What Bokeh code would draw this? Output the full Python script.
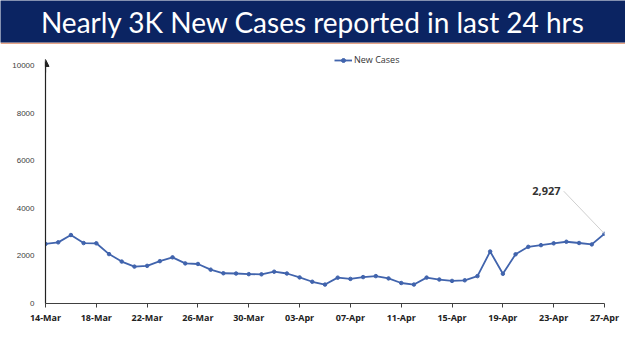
import pandas as pd
from bokeh.plotting import figure
from bokeh.layouts import column
from bokeh.models import (Range1d, FixedTicker, DatetimeTickFormatter, Legend,
                          LegendItem, Arrow, NormalHead)
from bokeh.core.properties import value
from bokeh.embed import file_html
from bokeh.resources import INLINE

title_text = "Nearly 3K New Cases reported in last 24 hrs"
series_name = "New Cases"
dates = pd.date_range("2022-03-14", "2022-04-27", freq="D")
new_cases = [2503, 2568, 2876, 2539, 2528, 2075, 1761, 1549, 1581, 1778,
             1938, 1685, 1660, 1421, 1270, 1259, 1233, 1225,
             1335, 1260, 1096, 913, 795, 1086, 1033, 1109, 1150, 1054,
             861, 796, 1088, 1007, 949, 975, 1150, 2183, 1247, 2067,
             2380, 2451, 2527, 2593, 2541, 2483, 2927]
y_ticks = [0, 2000, 4000, 6000, 8000, 10000]
x_tick_dates = list(dates[::4])
callout_text = "2,927"

NAVY = "#0b2462"
LINE = "#4164ad"

# ---- banner ----
banner = figure(width=625, height=44, x_range=Range1d(0, 1), y_range=Range1d(0, 1),
                x_axis_location=None, y_axis_location=None, toolbar_location=None,
                output_backend="svg", min_border_left=0, min_border_right=0,
                min_border_top=0, min_border_bottom=2, frame_align=False)
banner.background_fill_color = NAVY
banner.border_fill_color = "#e7a485"
banner.outline_line_color = None
banner.grid.visible = False
banner.text(x=[0.5], y=[0.5], text=[title_text], text_align="center",
            text_baseline="middle", text_color="white",
            text_font=value("Lato"), text_font_size="28px")

# ---- chart ----
p = figure(width=625, height=307, x_axis_type="datetime",
           x_range=Range1d(dates[0], dates[-1]), y_range=Range1d(0, 10500),
           toolbar_location=None, output_backend="svg", frame_align=False,
           min_border_left=45, min_border_right=21, min_border_top=9,
           min_border_bottom=48)
p.outline_line_color = None
p.grid.visible = False
p.background_fill_color = "white"
p.border_fill_color = "white"

r_line = p.line(dates, new_cases, line_color=LINE, line_width=1.8)
r_pts = p.scatter(dates, new_cases, marker="circle", size=3.5, fill_color=LINE,
                  line_color=LINE)

# y axis
p.yaxis.ticker = FixedTicker(ticks=y_ticks)
p.yaxis.bounds = (0, 10170)
p.yaxis.major_tick_line_color = None
p.yaxis.minor_tick_line_color = None
p.yaxis.axis_line_color = "#222222"
p.yaxis.axis_line_width = 1.2
p.yaxis.major_label_text_font = "Liberation Sans"
p.yaxis.major_label_text_font_size = "8px"
p.yaxis.major_label_text_color = "#404040"
p.yaxis.major_label_standoff = 5

# x axis
p.xaxis.ticker = FixedTicker(ticks=[d.timestamp() * 1000 for d in x_tick_dates])
p.xaxis.formatter = DatetimeTickFormatter(days="%d-%b", months="%d-%b")
p.xaxis.minor_tick_line_color = None
p.xaxis.major_tick_in = 0
p.xaxis.major_tick_out = 4
p.xaxis.major_tick_line_color = "#404040"
p.xaxis.axis_line_color = "#404040"
p.xaxis.major_label_text_font = "Open Sans"
p.xaxis.major_label_text_font_style = "bold"
p.xaxis.major_label_text_font_size = "9px"
p.xaxis.major_label_text_color = "#222222"
p.xaxis.major_label_standoff = 3

# arrow tip on y axis
x0 = dates[0].timestamp() * 1000
p.add_layout(Arrow(end=NormalHead(size=7, fill_color="#222222", line_color="#222222"),
                   x_start=x0, y_start=9700, x_end=x0, y_end=10250,
                   line_color="#222222", line_width=1.2))

# callout
lx = dates[-1] - pd.Timedelta(hours=83)
ly = new_cases[-1] + 1790
p.segment(x0=[dates[-1] - pd.Timedelta(hours=77)], y0=[ly],
          x1=[dates[-1]], y1=[new_cases[-1]], line_color="#cfcfcf", line_width=1)
p.text(x=[lx], y=[ly], text=[callout_text], text_align="right",
       text_baseline="middle", text_font=value("Open Sans"),
       text_font_style="bold", text_font_size="11px", text_color="#333333")

legend = Legend(items=[LegendItem(label=series_name, renderers=[r_line, r_pts])],
                location=(289, 237), padding=0, margin=0, spacing=0,
                glyph_width=18, glyph_height=10, label_height=10,
                label_standoff=2, label_text_font="Open Sans",
                label_text_font_size="9px", label_text_color="#333333",
                border_line_color=None, background_fill_alpha=0)
p.add_layout(legend)

layout = column(banner, p, spacing=0)
open("out.html", "w").write(file_html(layout, INLINE))
